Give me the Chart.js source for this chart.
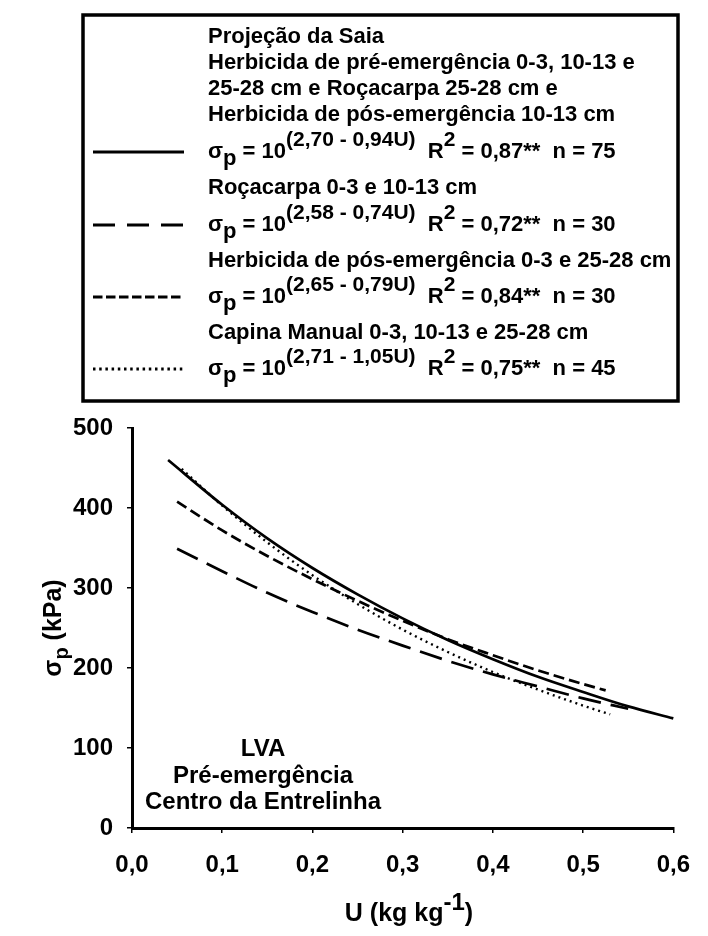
<!DOCTYPE html>
<html>
<head>
<meta charset="utf-8">
<script src="https://cdn.jsdelivr.net/npm/chart.js@4.4.1/dist/chart.umd.min.js"></script>
<style>
  html, body { margin: 0; padding: 0; background: #fff; }
  #wrap { position: relative; width: 708px; height: 936px; }
</style>
</head>
<body>
<div id="wrap"><canvas id="c" width="708" height="936"></canvas></div>
<script>
// ---- data ----
const xTicks = [0, 0.1, 0.2, 0.3, 0.4, 0.5, 0.6];
const yTicks = [0, 100, 200, 300, 400, 500];

// Projeção da Saia ... (solid)
const uSaia = [0.04, 0.10, 0.15, 0.20, 0.25, 0.30, 0.35, 0.40, 0.45, 0.50, 0.55, 0.60];
const sSaia = [460, 404, 362, 325, 292, 262, 235, 211, 189, 170, 152, 137];
// Roçacarpa 0-3 e 10-13 cm (long dash)
const uRoca = [0.05, 0.10, 0.15, 0.20, 0.25, 0.30, 0.35, 0.40, 0.45, 0.50, 0.55];
const sRoca = [349, 321, 294, 270, 248, 228, 209, 192, 177, 162, 149];
// Herbicida de pós-emergência 0-3 e 25-28 cm (short dash)
const uPos = [0.05, 0.10, 0.15, 0.20, 0.25, 0.30, 0.35, 0.40, 0.45, 0.50, 0.525];
const sPos = [408, 372, 340, 311, 284, 259, 236, 216, 197, 180, 172];
// Capina Manual (dotted)
const uCap = [0.055, 0.10, 0.15, 0.20, 0.25, 0.30, 0.35, 0.40, 0.45, 0.50, 0.53];
const sCap = [449, 403, 357, 316, 280, 248, 220, 195, 173, 153, 142];

// legend content
const legendNames = [
  ["Projeção da Saia", "Herbicida de pré-emergência 0-3, 10-13 e", "25-28 cm e Roçacarpa 25-28 cm e", "Herbicida de pós-emergência 10-13 cm"],
  ["Roçacarpa 0-3 e 10-13 cm"],
  ["Herbicida de pós-emergência 0-3 e 25-28 cm"],
  ["Capina Manual 0-3, 10-13 e 25-28 cm"]
];
const coefA = ["2,70", "2,58", "2,65", "2,71"];
const coefB = ["0,94", "0,74", "0,79", "1,05"];
const r2Vals = ["0,87", "0,72", "0,84", "0,75"];
const nVals = ["75", "30", "30", "45"];
const annotationLines = ["LVA", "Pré-emergência", "Centro da Entrelinha"];

// ---- styles ----
const FONT = '"Liberation Sans", Arial, sans-serif';
const dashes = [[], [23, 10], [11, 5], [2, 4]];
const widths = [2.7, 2.7, 2.7, 2.4];
const legendDashes = [[], [22, 12], [9.5, 3.5], [2.5, 3.7]];

function pts(u, s) { return u.map((x, i) => ({ x: x, y: s[i] })); }

const seriesData = [pts(uSaia, sSaia), pts(uRoca, sRoca), pts(uPos, sPos), pts(uCap, sCap)];

function drawRich(ctx, parts, x, y, baseSize) {
  let cx = x;
  for (const p of parts) {
    const size = Math.round(baseSize * (p[1] || 1));
    ctx.font = 'bold ' + size + 'px ' + FONT;
    ctx.fillText(p[0], cx, y + (p[2] || 0));
    cx += ctx.measureText(p[0]).width;
  }
  return cx - x;
}
function richWidth(ctx, parts, baseSize) {
  let w = 0;
  for (const p of parts) {
    const size = Math.round(baseSize * (p[1] || 1));
    ctx.font = 'bold ' + size + 'px ' + FONT;
    w += ctx.measureText(p[0]).width;
  }
  return w;
}

const decorPlugin = {
  id: 'decor',
  afterDraw(chart) {
    const ctx = chart.ctx;
    ctx.save();
    ctx.fillStyle = '#000';
    ctx.strokeStyle = '#000';
    ctx.textBaseline = 'middle';
    ctx.textAlign = 'left';

    // legend box
    ctx.lineWidth = 3.5;
    ctx.strokeRect(83, 15, 595, 386);

    const textX = 208;
    const nameRows = [[37, 63, 89, 115], [188], [261], [333]];
    const formulaRows = [152, 225, 297, 369];
    for (let i = 0; i < 4; i++) {
      ctx.font = 'bold 22px ' + FONT;
      legendNames[i].forEach((t, k) => ctx.fillText(t, textX, nameRows[i][k]));
      const fy = formulaRows[i];
      drawRich(ctx, [
        ['σ', 1, 0], ['p', 1, 7], [' = 10', 1, 0], ['(' + coefA[i] + ' - ' + coefB[i] + 'U)', 0.95, -12],
        ['  R', 1, 0], ['2', 0.95, -12], [' = ' + r2Vals[i] + '**  n = ' + nVals[i], 1, 0]
      ], textX, fy, 22);
      ctx.beginPath();
      ctx.setLineDash(legendDashes[i]);
      ctx.lineWidth = 3;
      ctx.moveTo(93, fy);
      ctx.lineTo(184, fy);
      ctx.stroke();
      ctx.setLineDash([]);
    }

    // annotation
    ctx.textAlign = 'center';
    ctx.font = 'bold 24px ' + FONT;
    const annY = [749, 776, 802];
    annotationLines.forEach((t, k) => ctx.fillText(t, 263, annY[k]));

    // x title
    ctx.textAlign = 'left';
    const xt = [['U (kg kg', 1, 0], ['-1', 0.95, -11], [')', 1, 0]];
    const xw = richWidth(ctx, xt, 25);
    drawRich(ctx, xt, 409 - xw / 2, 914, 25);

    // y title
    ctx.save();
    ctx.translate(54, 628);
    ctx.rotate(-Math.PI / 2);
    const yt = [['σ', 1, 0], ['p', 0.8, 8], [' (kPa)', 1, 0]];
    const yw = richWidth(ctx, yt, 25);
    drawRich(ctx, yt, -yw / 2, 0, 25);
    ctx.restore();

    ctx.restore();
  }
};

const datasets = seriesData.map((d, i) => ({
  data: d,
  borderColor: '#000',
  backgroundColor: '#000',
  borderWidth: widths[i],
  borderDash: dashes[i],
  pointRadius: 0,
  fill: false,
  tension: 0.4,
  cubicInterpolationMode: 'monotone',
  clip: false
}));

new Chart(document.getElementById('c'), {
  type: 'line',
  data: { datasets: datasets },
  options: {
    responsive: false,
    devicePixelRatio: 1,
    animation: false,
    events: [],
    layout: { padding: { left: 0, top: 428, right: 22, bottom: 0 } },
    plugins: { legend: { display: false }, tooltip: { enabled: false } },
    scales: {
      x: {
        type: 'linear',
        min: 0, max: 0.6,
        afterBuildTicks(scale) { scale.ticks = xTicks.map(v => ({ value: v })); },
        afterFit(scale) { scale.height = 108; },
        ticks: {
          color: '#000',
          font: { family: FONT, size: 24, weight: 'bold' },
          padding: 18,
          maxRotation: 0,
          callback: v => v.toFixed(1).replace('.', ',')
        },
        grid: { drawOnChartArea: false, drawTicks: true, tickLength: 5, color: '#000', lineWidth: 1.5 },
        border: { display: true, color: '#000', width: 3 }
      },
      y: {
        type: 'linear',
        min: 0, max: 500,
        afterBuildTicks(scale) { scale.ticks = yTicks.map(v => ({ value: v })); },
        afterFit(scale) { scale.width = 132; },
        ticks: {
          color: '#000',
          font: { family: FONT, size: 24, weight: 'bold' },
          padding: 14,
          callback: v => String(v)
        },
        grid: { drawOnChartArea: false, drawTicks: true, tickLength: 5, color: '#000', lineWidth: 1.5 },
        border: { display: true, color: '#000', width: 3 }
      }
    }
  },
  plugins: [decorPlugin]
});
</script>
</body>
</html>
